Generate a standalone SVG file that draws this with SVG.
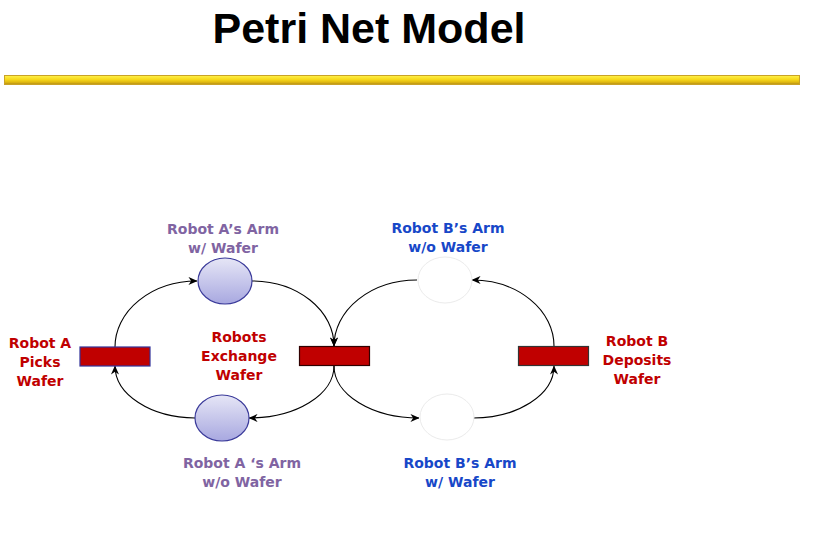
<svg xmlns="http://www.w3.org/2000/svg" width="815" height="552" viewBox="0 0 815 552">
<defs>
<linearGradient id="bar" x1="0" y1="0" x2="0" y2="1">
<stop offset="0" stop-color="#FFF24A"/>
<stop offset="0.45" stop-color="#F7D81A"/>
<stop offset="0.75" stop-color="#E0B810"/>
<stop offset="1" stop-color="#B08A18"/>
</linearGradient>
<linearGradient id="place" x1="0" y1="0" x2="0" y2="1">
<stop offset="0" stop-color="#E6E6F6"/>
<stop offset="1" stop-color="#A8A8E0"/>
</linearGradient>
<marker id="arr" viewBox="0 0 10 10" refX="9.5" refY="5" markerWidth="9" markerHeight="9" markerUnits="userSpaceOnUse" orient="auto">
<path d="M0,0.5 L10,5 L0,9.5 L3,5 z" fill="#000"/>
</marker>
<style>
.t{font-family:"DejaVu Sans",Verdana,sans-serif;font-weight:bold;font-size:14px;text-anchor:middle}
.red{fill:#C00000}
.pur{fill:#8064A2}
.blu{fill:#1747C8}
.tr{fill:#C00000;stroke-width:1.2}
.pl{fill:url(#place);stroke:#3A3A9A;stroke-width:1.2}
.pw{fill:#FFFFFF;stroke:#EBEBEB;stroke-width:1}
.arc{fill:none;stroke:#000;stroke-width:1.1;marker-end:url(#arr)}
</style>
</defs>
<rect width="815" height="552" fill="#FFFFFF"/>
<text x="369" y="43" font-family="'Liberation Sans',Arial,sans-serif" font-weight="bold" font-size="43" text-anchor="middle" fill="#000">Petri Net Model</text>
<rect x="4.5" y="75.5" width="795" height="9" fill="url(#bar)" stroke="#C9A227" stroke-width="1"/>

<g id="connectors">
<path class="arc" d="M115,347 A82,66 0 0,1 197,281"/>
<path class="arc" d="M252,281 A82,65 0 0,1 334,346"/>
<path class="arc" d="M417,280 A83,66 0 0,0 334,346"/>
<path class="arc" d="M554,346 A82,66 0 0,0 472,280"/>
<path class="arc" d="M334,366 A85,52 0 0,1 249,418"/>
<path class="arc" d="M195,418 A81,52 0 0,1 115,366"/>
<path class="arc" d="M334,366 A85,52 0 0,0 419,418"/>
<path class="arc" d="M473,418 A81,52 0 0,0 554,366"/>
</g>

<g id="t-robotA-picks">
<rect class="tr" x="80" y="347" width="70" height="19" stroke="#333399"/>
<text class="t red" x="40" y="348">Robot A</text>
<text class="t red" x="40" y="367">Picks</text>
<text class="t red" x="40" y="386">Wafer</text>
</g>

<g id="t-exchange">
<rect class="tr" x="299.5" y="346.5" width="70" height="19" stroke="#300000"/>
<text class="t red" x="239" y="342">Robots</text>
<text class="t red" x="239" y="361">Exchange</text>
<text class="t red" x="239" y="380">Wafer</text>
</g>

<g id="t-robotB-deposits">
<rect class="tr" x="518.5" y="346.5" width="70" height="19" stroke="#333333"/>
<text class="t red" x="637" y="346">Robot B</text>
<text class="t red" x="637" y="365">Deposits</text>
<text class="t red" x="637" y="384">Wafer</text>
</g>

<g id="p-A-with">
<ellipse class="pl" cx="225" cy="281" rx="27" ry="23"/>
<text class="t pur" x="223" y="234">Robot A’s Arm</text>
<text class="t pur" x="223" y="253">w/ Wafer</text>
</g>

<g id="p-A-without">
<ellipse class="pl" cx="222" cy="418" rx="27" ry="23"/>
<text class="t pur" x="242" y="468">Robot A ‘s Arm</text>
<text class="t pur" x="242" y="487">w/o Wafer</text>
</g>

<g id="p-B-without">
<ellipse class="pw" cx="445" cy="280" rx="27" ry="23"/>
<text class="t blu" x="448" y="233">Robot B’s Arm</text>
<text class="t blu" x="448" y="252">w/o Wafer</text>
</g>

<g id="p-B-with">
<ellipse class="pw" cx="447" cy="417" rx="27" ry="23"/>
<text class="t blu" x="460" y="468">Robot B’s Arm</text>
<text class="t blu" x="460" y="487">w/ Wafer</text>
</g>
</svg>
